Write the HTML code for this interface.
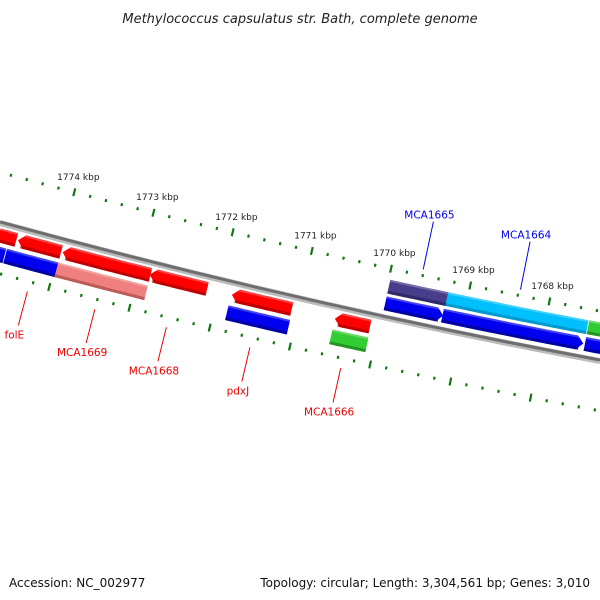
<!DOCTYPE html>
<html><head><meta charset="utf-8"><style>
body{margin:0;background:#fff}
svg{display:block;font-family:"DejaVu Sans","Liberation Sans",sans-serif}
</style></head><body>
<svg id="map" width="600" height="600" viewBox="0 0 600 600">
<rect width="600" height="600" fill="#fff"/>
<text x="300" y="23" text-anchor="middle" font-size="13" font-style="italic" fill="#222">Methylococcus capsulatus str. Bath, complete genome</text>
<g id="ticks"></g>
<path d="M0,223 Q300,305 600,361" fill="none" stroke="#bbb" stroke-width="6"/>
<path d="M0,222 Q300,304 600,360" fill="none" stroke="#6e6e6e" stroke-width="3"/>
<g id="genes"></g>
<g id="labels"></g>
<text x="9" y="587" font-size="12" fill="#111">Accession: NC_002977</text>
<text x="590" y="587" text-anchor="end" font-size="12" fill="#111">Topology: circular; Length: 3,304,561 bp; Genes: 3,010</text>
</svg>
<script>
const tickKbp=[1775,1774,1773,1772,1771,1770,1769,1768,1767];
const geneNames=["r0","r1","r2","r3","pdxJ","MCA1666","g0a","g0b","MCA1669","blue2","green1","MCA1665","MCA1664","green2","blue3","blue4","blue5"];
const geneStart=[1774.75,1774.51,1773.95,1772.86,1771.83,1770.54,1774.80,1774.61,1773.97,1771.84,1770.54,1769.98,1769.25,1767.47,1769.98,1769.26,1767.47];
const geneEnd=[1774.53,1773.97,1772.85,1772.14,1771.08,1770.10,1774.62,1773.95,1772.85,1771.07,1770.09,1769.24,1767.48,1767.00,1769.25,1767.49,1767.00];
const geneTrack=[1,1,1,1,1,1,2,2,2,2,2,-2,-2,-2,-1,-1,-1];
const geneDir=[0,-1,-1,-1,-1,-1,0,0,0,0,0,0,0,0,1,1,0];
const geneColor=["#ff0000","#ff0000","#ff0000","#ff0000","#ff0000","#ff0000","#0000ee","#0000ee","#f08080","#0000ee","#33cc33","#483d8b","#00bfff","#33cc33","#0000ee","#0000ee","#0000ee"];
const geneDark=["#b00000","#b00000","#b00000","#b00000","#b00000","#b00000","#000090","#000090","#b05050","#000090","#1e8a1e","#2a2360","#0090c0","#1e8a1e","#000090","#000090","#000090"];
const labelText=["folE","MCA1669","MCA1668","pdxJ","MCA1666","MCA1665","MCA1664"];
const labelKbp=[1774.24,1773.40,1772.51,1771.47,1770.34,1769.61,1768.38];
const labelSide=[1,1,1,1,1,-1,-1];
const labelColor=["#e00","#e00","#e00","#e00","#e00","#00e","#00e"];
const trackOff={"1":[6,20],"2":[24,39],"-1":[-20,-6],"-2":[-37,-23]};
const NS="http://www.w3.org/2000/svg";
function kx(k){return 62+(1774-k)*79.7;}
function pt(k,off){const x=kx(k),t=x/600;const y=222*(1-t)*(1-t)+2*304*t*(1-t)+360*t*t;
 const s=(2*(1-t)*(304-222)+2*t*(360-304))/600;const L=Math.sqrt(1+s*s);
 return [x-s*off/L,y+off/L];}
function mk(tag,attrs,parent){const e=document.createElementNS(NS,tag);for(const a in attrs)e.setAttribute(a,attrs[a]);parent.appendChild(e);return e;}
const tg=document.getElementById('ticks');
for(let i=0;i<tickKbp.length-1;i++){
 for(let j=0;j<5;j++){
  const k=tickKbp[i]-j*0.2;
  [-48,50].forEach(off=>{
   const len=j==0?8:3;const a=pt(k,off-len/2),b=pt(k,off+len/2);
   const ln=mk('line',{x1:a[0],y1:a[1],x2:b[0],y2:b[1],stroke:'#117711','stroke-width':2.2},tg);
   
   
  });
  if(j==0){const p=pt(tickKbp[i],-64);
   if(p[0]>20){
   const tx=mk('text',{x:p[0],y:p[1]+3,'text-anchor':'middle','font-size':'9',fill:'#222'},tg);
   tx.textContent=tickKbp[i]+' kbp';
   
   }}
 }
}
const gg=document.getElementById('genes');
function band(k1,k2,o1,o2,dir){const N=12,top=[],bot=[];
 for(let i=0;i<=N;i++){const k=k1+(k2-k1)*i/N;top.push(pt(k,o1));bot.push(pt(k,o2));}
 const tip=0.08,m=(o1+o2)/2;let pts=[];
 if(dir==-1){top[0]=pt(k1-tip,o1);bot[0]=pt(k1-tip,o2);pts.push(pt(k1,m));}
 pts=pts.concat(top);
 if(dir==1){top[N]=pt(k2+tip,o1);bot[N]=pt(k2+tip,o2);pts[pts.length-1]=top[N];pts.push(pt(k2,m));}
 pts=pts.concat(bot.reverse());
 return pts.map(p=>p[0].toFixed(1)+','+p[1].toFixed(1)).join(' ');}
for(let i=0;i<geneNames.length;i++){
 const o=trackOff[geneTrack[i]];
 const p=mk('polygon',{points:band(geneStart[i],geneEnd[i],o[0],o[1],geneDir[i]),fill:geneColor[i]},gg);
 
 
 const d=mk('polygon',{points:band(geneStart[i]-(geneDir[i]==-1?0.05:0),geneEnd[i]+(geneDir[i]==1?0.05:0),o[1]-3,o[1],0),fill:geneDark[i],opacity:0.8},gg);
 
 
 const h=mk('polygon',{points:band(geneStart[i]-(geneDir[i]==-1?0.05:0),geneEnd[i]+(geneDir[i]==1?0.05:0),o[0],o[0]+2,0),fill:'#fff',opacity:0.25},gg);
 
 
}
const lg=document.getElementById('labels');
for(let i=0;i<labelText.length;i++){
 const s=labelSide[i];
 const a=pt(labelKbp[i],s>0?60:-54),b=pt(labelKbp[i],s>0?95:-103);
 const ln=mk('line',{x1:a[0],y1:a[1],x2:b[0],y2:b[1],stroke:labelColor[i],'stroke-width':1},lg);
 
 
 const t=mk('text',{x:b[0]-4,y:s>0?b[1]+13:b[1]-3,'text-anchor':'middle','font-size':'10.5',fill:labelColor[i]},lg);
 t.textContent=labelText[i];
 
 
}
</script>
</body></html>
